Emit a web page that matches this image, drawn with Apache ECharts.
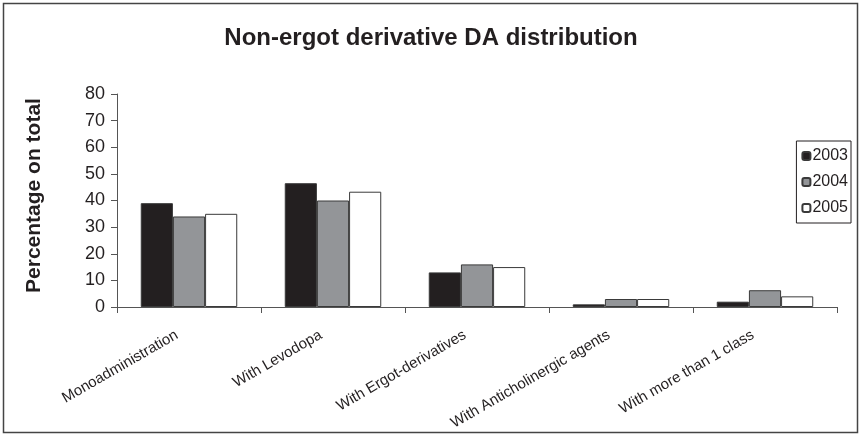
<!DOCTYPE html>
<html>
<head>
<meta charset="utf-8">
<script src="https://cdn.jsdelivr.net/npm/echarts@6/dist/echarts.min.js"></script>
<style>
html,body{margin:0;padding:0;background:#fff;}
#c{width:862px;height:436px;}
</style>
</head>
<body>
<div id="c"></div>
<script>
const categories = ["Monoadministration","With Levodopa","With Ergot-derivatives","With Anticholinergic agents","With more than 1 class"];
const years = ["2003","2004","2005"];
const v2003 = [39, 46.5, 13, 1, 2];
const v2004 = [34, 40, 16, 3, 6.3];
const v2005 = [35, 43.3, 15, 3, 4];
const yTicks = [0,10,20,30,40,50,60,70,80];
const colors = ["#231f20", "#939598", "#ffffff"];
const seriesValues = [v2003, v2004, v2005];

const chart = echarts.init(document.getElementById('c'), null, {renderer:'canvas'});
chart.setOption({
  animation:false,
  backgroundColor:'#fff',
  title:{text:'Non-ergot derivative DA distribution', left:'center', top:21, padding:[5,0,5,12],
    textStyle:{fontFamily:'Liberation Sans, Arial', fontSize:24, fontWeight:'bold', color:'#231f20'}},
  graphic:[{type:'rect', shape:{x:3.5,y:3.5,width:854,height:429}, style:{fill:'none', stroke:'#444', lineWidth:1.5}, silent:true}],
  legend:{orient:'vertical', right:11, top:141, data:years, itemWidth:8, itemHeight:8, itemGap:10,
    borderColor:'#231f20', borderWidth:1, borderRadius:0, padding:[7,3,7,5],
    textStyle:{fontFamily:'Liberation Sans, Arial', fontSize:16, color:'#231f20', padding:[0,0,0,-3]}},
  grid:{left:117, right:25, top:94, bottom:129, containLabel:false},
  xAxis:{type:'category', data:categories,
    axisLine:{lineStyle:{color:'#555', width:1}},
    axisTick:{show:true, alignWithLabel:false, length:6, lineStyle:{color:'#555'}},
    axisLabel:{rotate:30, interval:0, margin:20, padding:[0,14,0,0], fontFamily:'Liberation Sans, Arial', fontSize:15, color:'#231f20'}},
  yAxis:{type:'value', min:0, max:80, interval:10,
    name:'Percentage on total', nameLocation:'middle', nameGap:72,
    nameTextStyle:{fontFamily:'Liberation Sans, Arial', fontSize:21, fontWeight:'bold', color:'#231f20', padding:[0,0,0,10]},
    axisLine:{show:true, lineStyle:{color:'#555'}},
    axisTick:{show:true, length:6, lineStyle:{color:'#555'}},
    splitLine:{show:false},
    axisLabel:{margin:12, fontFamily:'Liberation Sans, Arial', fontSize:18, color:'#231f20',
      formatter:function(v){return yTicks.indexOf(v)>=0 ? String(v) : '';}}},
  series: years.map((y,i)=>({
    name:y, type:'bar', data:seriesValues[i], barGap:'0%', barCategoryGap:'33%',
    itemStyle:{color:colors[i], borderColor:'#3a3a3a', borderWidth:1}
  }))
});
</script>
</body>
</html>
